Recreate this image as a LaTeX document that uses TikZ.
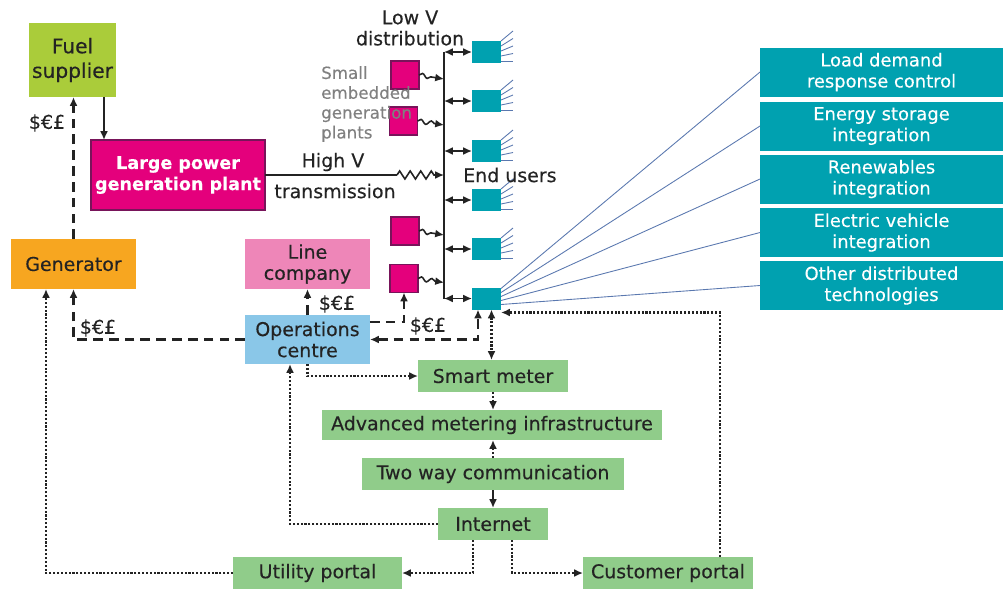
\documentclass[tikz,border=0pt]{standalone}
\usepackage{fontspec}
\setmainfont{DejaVu Sans}[FakeBold=0.3]
\usetikzlibrary{calc,arrows.meta,decorations.pathmorphing}

\definecolor{fuelcol}{RGB}{170,204,58}
\definecolor{plantcol}{RGB}{228,0,124}
\definecolor{plantedge}{RGB}{120,20,90}
\definecolor{gencol}{RGB}{247,166,32}
\definecolor{linecol}{RGB}{238,134,184}
\definecolor{opscol}{RGB}{138,199,232}
\definecolor{metercol}{RGB}{144,204,138}
\definecolor{tealcol}{RGB}{0,161,176}
\definecolor{fancol}{RGB}{90,120,175}
\definecolor{darktext}{RGB}{35,35,35}

\begin{document}
\begin{tikzpicture}[x=0.02cm,y=-0.02cm,>={Latex[length=5pt,width=4.5pt]},
    font=\fontsize{10.8}{12}\selectfont,
    plainbox/.style={inner sep=0pt,outer sep=0pt,align=center,text=darktext},
    meterbox/.style={plainbox,fill=metercol,minimum height=0.64cm},
    sidebox/.style={plainbox,fill=tealcol,text=white,font=\fontsize{10.2}{12}\selectfont,
                    minimum width=4.86cm,minimum height=0.98cm},
    eusq/.style={inner sep=0pt,outer sep=0pt,fill=tealcol,minimum width=0.58cm,minimum height=0.44cm},
    smallsq/.style={inner sep=0pt,outer sep=0pt,fill=plantcol,draw=plantedge,line width=0.6pt,minimum size=0.56cm},
    moneyflow/.style={dash pattern=on 5.5pt off 3.5pt,line width=1.3pt,draw=darktext},
    dataflow/.style={densely dotted,line width=1.2pt,draw=darktext},
    fanline/.style={draw=fancol,line width=0.5pt},
    wavy/.style={line width=0.9pt,decorate,decoration={snake,amplitude=1.2pt,segment length=6pt,post length=5pt}},
    money/.style={text=darktext}]

\useasboundingbox (0,0) rectangle (1003,589);

% main boxes
\node[plainbox,fill=fuelcol,minimum width=1.74cm,minimum height=1.48cm,font=\fontsize{11.5}{14}\selectfont] (fuel) at (72.5,60) {Fuel\\supplier};
\node[plainbox,fill=plantcol,draw=plantedge,line width=0.8pt,text=white,font=\fontsize{10}{12}\selectfont\bfseries,
      minimum width=3.48cm,minimum height=1.4cm] (plant) at (178,175) {Large power\\generation plant};
\node[plainbox,fill=gencol,minimum width=2.5cm,minimum height=1cm] (gen) at (73.5,264) {Generator};
\node[plainbox,fill=linecol,minimum width=2.5cm,minimum height=1cm] (line) at (307.5,264) {Line\\company};
\node[plainbox,fill=opscol,minimum width=2.5cm,minimum height=0.98cm] (ops) at (307.5,339.5) {Operations\\centre};

\node[meterbox,minimum width=3cm] (smart) at (493,376) {Smart meter};
\node[meterbox,minimum width=6.8cm,minimum height=0.6cm] (ami) at (492,425) {Advanced metering infrastructure};
\node[meterbox,minimum width=5.24cm] (twoway) at (493,474) {Two way communication};
\node[meterbox,minimum width=2.2cm] (inet) at (493,524) {Internet};
\node[meterbox,minimum width=3.38cm] (uport) at (317.5,573) {Utility portal};
\node[meterbox,minimum width=3.4cm] (cport) at (668,573) {Customer portal};

% right hand boxes
\foreach \k/\yy/\txt in {1/72/{Load demand\\response control},
                         2/126/{Energy storage\\integration},
                         3/179/{Renewables\\integration},
                         4/232.5/{Electric vehicle\\integration},
                         5/285.5/{Other distributed\\technologies}}
  \node[sidebox] (rb\k) at (881.5,\yy) {\txt};

% end users and small plants
\foreach \i/\yy in {1/52,2/101,3/151,4/200,5/249,6/298.5}
  \node[eusq] (eu\i) at (486.5,\yy) {};
\node[smallsq] (ss1) at (405,75) {};
\node[smallsq] (ss2) at (403.5,121) {};
\node[smallsq] (ss3) at (405,231) {};
\node[smallsq] (ss4) at (404,278.5) {};

\coordinate (bustop) at (444,52);
\coordinate (busbot) at (444,298.5);
\coordinate (hvz) at (397,175);

% distribution bus
\draw[line width=0.9pt,darktext] (bustop) -- (busbot);
\foreach \i in {1,...,6}
  \draw[<->,line width=0.9pt,darktext] (eu\i.west -| bustop) -- (eu\i.west);
\foreach \i in {1,...,4}
  \draw[->,wavy,darktext] (ss\i.east) -- ($(ss\i.east -| bustop)+(0,4)$);

% high voltage line
\draw[line width=0.9pt,darktext] (plant.east) -- (hvz);
\draw[->,line width=0.9pt,darktext,decorate,decoration={zigzag,amplitude=2.3pt,segment length=6pt,post length=5pt}]
  (hvz) -- (hvz -| bustop);

% fans
\foreach \i in {1,...,5}
  \foreach \k in {0,...,4}
    \draw[fanline] ($(eu\i.north east)+(0,\k*5)$) -- ($(eu\i.north east)+(12,-10+\k*7.5)$);
\foreach \k/\off in {1/1,2/5,3/9,4/13,5/17}
  \draw[fanline] ($(eu6.north east)+(0,\off)$) -- (rb\k.west);

% energy and money
\draw[->,line width=1.2pt,darktext] ([xshift=0.63cm]fuel.south) -- ([xshift=0.63cm]fuel.south |- plant.north);
\draw[->,moneyflow] (gen.north) -- (gen.north |- fuel.south);
\draw[->,moneyflow] (ops.west) -| (gen.south);
\draw[->,moneyflow] (ops.north) -- (line.south);
\draw[->,moneyflow] ([yshift=0.35cm]ops.east) -| (ss4.south);
\draw[<->,moneyflow] (ops.east) -| ([xshift=-0.17cm]eu6.south);

% data
\draw[<->,dataflow] ([xshift=0.1cm]eu6.south) -- ([xshift=0.1cm]eu6.south |- smart.north);
\draw[->,dataflow] ([xshift=1.04cm]cport.north) |- ([yshift=-0.06cm]eu6.south east);
\draw[->,dataflow] (ops.south) |- (smart.west);
\draw[->,dataflow] (smart.south) -- (smart.south |- ami.north);
\draw[->,dataflow] (twoway.north) -- (twoway.north |- ami.south);
\draw[->,line width=1.2pt,darktext] (twoway.south) -- (inet.north);
\draw[->,dataflow] (inet.west) -| ([xshift=-0.35cm]ops.south);
\draw[->,dataflow] ([xshift=-0.4cm]inet.south) |- (uport.east);
\draw[->,dataflow] ([xshift=0.38cm]inet.south) |- (cport.west);
\draw[->,dataflow] (uport.west) -| ([xshift=-0.55cm]gen.south);

% labels
\node[money] (m1) at (47,123) {\$€£};
\node[money] (m2) at (98,328) {\$€£};
\node[money] (m3) at (337,304) {\$€£};
\node[money] (m4) at (428,326) {\$€£};
\node[text=darktext,align=center] (lowv) at (410,28) {Low V\\distribution};
\node[text=darktext] (highv) at (333,162) {High V};
\node[text=darktext] (trans) at (335,191) {transmission};
\node[text=darktext,anchor=west] (endu) at (457,175) {End users};
\node[text=gray,align=left,anchor=north west,font=\fontsize{9.5}{11.3}\selectfont] (small) at (315,60)
  {Small\\embedded\\generation\\plants};

\end{tikzpicture}
\end{document}
